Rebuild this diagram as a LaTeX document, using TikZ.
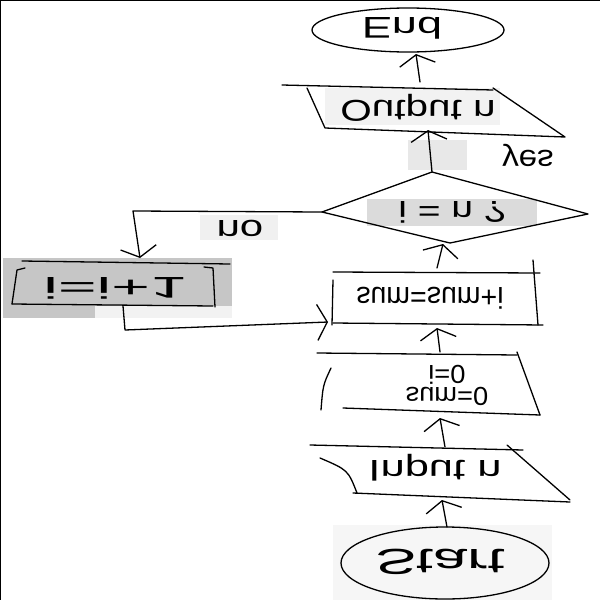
\documentclass[tikz,border=0pt]{standalone}
\usepackage{graphicx}
\usepackage{fontspec}
\setmainfont{Liberation Sans}
\usetikzlibrary{arrows.meta}
\tikzset{
  hand/.style={line width=1.3pt, line cap=round, line join=round},
  flow/.style={hand, -{Straight Barb[length=10pt,width=36pt,line width=1.3pt]}},
  lbl/.style={inner sep=0pt, font=\fontsize{30}{34}\selectfont},
  patch/.style={draw=none}
}
\newcommand{\flipv}[2][1]{\scalebox{#1}[-1]{#2}}
\begin{document}
\begin{tikzpicture}[x=1pt,y=-1pt]
\useasboundingbox (0,0) rectangle (600,600);
\fill[white] (0,0) rectangle (600,600);
% background patches
\fill[patch,gray!7] (333,525) rectangle (552,600);
\fill[patch,gray!28] (367,199) rectangle (537,226);
\fill[patch,gray!10] (325,88) rectangle (500,125);
\fill[patch,gray!18] (408,140) rectangle (467,170);
\fill[patch,gray!12] (200,215) rectangle (278,240);
\fill[patch,gray!45] (3,258) rectangle (232,306);
\fill[patch,gray!45] (3,306) rectangle (95,318);
\fill[patch,gray!10] (95,306) rectangle (232,318);
% frame edges
\draw[line width=1.5pt] (0,0) -- (600,0);
\draw[line width=1.5pt] (0,0) -- (0,600);

% End
\draw[hand] (408,30) ellipse [x radius=96, y radius=22];
\node[lbl] (endt) at (402,28) {\flipv[1.5]{End}};
\coordinate (endB) at (416,54);

% Output n
\draw[hand] (282,85) -- (493,90);
\draw[hand] (307,88) -- (325,128) -- (565,137) -- (493,88);
\node[lbl] (outt) at (418,108) {\flipv[1.35]{Output n}};
\coordinate (outT) at (420,82);
\coordinate (outB) at (428,130);
\node[lbl] (yes) at (528,155) {\flipv[1.1]{yes}};

% Decision
\draw[hand] (322,212) -- (432,172) -- (588,214) -- (450,243) -- cycle;
\node[lbl] (dect) at (452,212) {\flipv[1.3]{i = n ?}};
\coordinate (dL) at (322,212);
\coordinate (dT) at (432,172);
\coordinate (dB) at (443,244);
\coordinate (nC) at (133,211);
\node[lbl] (no) at (240,228) {\flipv[1.4]{no}};

% i=i+1
\draw[hand] (22,261) -- (230,264);
\draw[hand] (12,304) -- (213,306);
\draw[hand] (25,268) -- (17,270) -- (12,304);
\draw[hand] (204,267) -- (213,268) -- (215,307);
\node[lbl] (inct) at (115,288) {\flipv[2.2]{i=i+1}};
\coordinate (incT) at (140,258);
\coordinate (incB) at (123,306);
\coordinate (lC) at (125,330);

% sum=sum+i
\draw[hand] (333,272) -- (540,273);
\draw[hand] (333,280) -- (332,325);
\draw[hand] (533,260) -- (538,325);
\draw[hand] (333,323) -- (543,325);
\node[lbl] (sumt) at (430,298) {\flipv[0.95]{sum=sum+i}};
\coordinate (sumT) at (437,268);
\coordinate (sumB) at (437,328);
\coordinate (sumL) at (328,322);

% sum=0, i=0
\draw[hand] (317,353) -- (517,355);
\draw[hand] (517,352) -- (540,415);
\draw[hand] (343,408) -- (540,415);
\draw[hand] (331,368) .. controls (323,385) .. (321,410);
\node[lbl, font=\fontsize{26}{28}\selectfont] (initt) at (447,382) {\flipv[1.05]{\begin{tabular}{@{}c@{}}sum=0\\[-6pt] i=0\end{tabular}}};
\coordinate (initT) at (440,352);
\coordinate (initB) at (440,418);

% Input n
\draw[hand] (310,445) -- (523,450);
\draw[hand] (507,445) -- (570,500);
\draw[hand] (353,493) -- (570,502);
\draw[hand] (320,458) .. controls (348,470) .. (357,493);
\node[lbl] (inpt) at (435,468) {\flipv[1.45]{Input n}};
\coordinate (inpT) at (445,447);
\coordinate (inpB) at (442,500);

% Start
\draw[hand] (445,563) ellipse [x radius=104, y radius=36];
\node[lbl, font=\fontsize{36}{40}\selectfont] (startt) at (440,562) {\flipv[1.7]{Start}};
\coordinate (startT) at (447,527);

% connectors
\draw[flow] (startT) -- (inpB);
\draw[flow] (inpT) -- (initB);
\draw[flow] (initT) -- (sumB);
\draw[flow] (sumT) -- (dB);
\draw[flow] (dT) -- (outB);
\draw[flow] (outT) -- (endB);
\draw[flow] (dL) -- (nC) -- (incT);
\draw[flow] (incB) -- (lC) -- (sumL);
\end{tikzpicture}
\end{document}
